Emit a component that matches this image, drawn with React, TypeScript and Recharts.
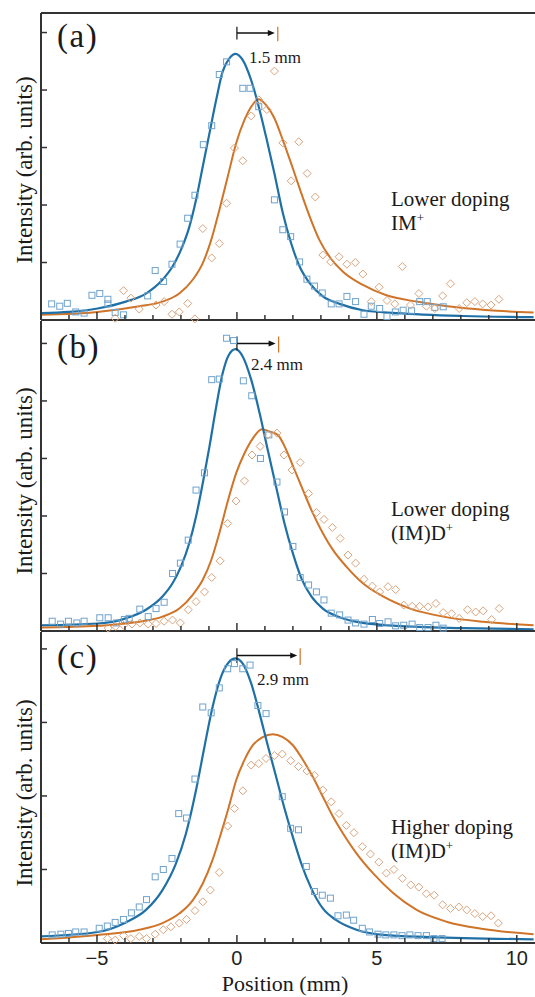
import React from "react";
import {
  ComposedChart,
  Line,
  Scatter,
  XAxis,
  YAxis,
  ReferenceLine,
  ReferenceDot,
} from "recharts";

// values: [position (mm), intensity (tick units)]
const aSquares: [number, number][] = [
  [-6.62, 0.28], [-6.33, 0.24], [-6.06, 0.29], [-5.76, 0.14], [-5.46, 0.12], [-5.18, 0.43],
  [-4.9, 0.46], [-4.61, 0.36], [-4.61, 0.28], [-4.35, 0.13], [-4.05, 0.09], [-3.19, 0.42],
  [-2.92, 0.86], [-2.62, 0.67], [-2.32, 0.97], [-2.03, 1.32], [-1.76, 1.77], [-1.5, 2.17],
  [-1.2, 3.05], [-0.9, 3.38], [-0.63, 4.27], [-0.37, 4.49], [0.21, 4.03], [0.47, 4.03],
  [0.78, 3.71], [1.34, 2.09], [1.64, 1.57], [1.92, 1.45], [2.24, 1.01], [2.5, 0.71],
  [2.77, 0.59], [3.05, 0.47], [3.37, 0.28], [3.65, 0.28], [3.93, 0.41], [4.24, 0.32],
  [4.54, 0.1], [4.8, 0.24], [5.1, 0.2], [5.36, 0.06], [5.66, 0.14], [5.94, 0.17],
  [6.24, 0.16], [6.53, 0.32], [6.8, 0.32], [7.07, 0.22], [7.37, 0.23],
];
const aDiamonds: [number, number][] = [
  [-4.35, 0.03], [-4.05, 0.51], [-3.79, 0.38], [-3.49, 0.19], [-2.89, 0.26], [-2.6, 0.32],
  [-2.32, 0.1], [-2.06, 0.14], [-1.76, 0.29], [-1.5, 0.02], [-1.22, 1.59], [-0.9, 1.08],
  [-0.63, 1.33], [-0.37, 2.03], [-0.09, 2.99], [0.21, 2.77], [0.51, 3.55], [0.78, 3.83],
  [1.07, 3.66], [1.34, 4.33], [1.64, 3.08], [1.94, 2.42], [2.21, 3.1], [2.51, 2.55],
  [2.8, 2.14], [3.07, 1.13], [3.35, 1.01], [3.65, 1.1], [3.93, 0.97], [4.23, 1.0],
  [4.5, 0.8], [4.8, 0.32], [5.08, 0.57], [5.36, 0.34], [5.64, 0.28], [5.91, 0.93],
  [6.2, 0.26], [6.5, 0.46], [6.77, 0.24], [7.07, 0.2], [7.35, 0.42], [7.63, 0.63],
  [7.94, 0.2], [8.21, 0.3], [8.5, 0.32], [8.78, 0.28], [9.08, 0.26], [9.36, 0.36],
];
const aBlueFit: [number, number][] = [
  [-7, 0.12], [-6, 0.14], [-4.98, 0.2], [-3.97, 0.32], [-3.25, 0.46], [-2.66, 0.7],
  [-2.3, 0.93], [-2.0, 1.22], [-1.7, 1.62], [-1.46, 2.09], [-1.22, 2.67], [-0.98, 3.25],
  [-0.74, 3.83], [-0.51, 4.32], [-0.27, 4.55], [-0.05, 4.63], [0.21, 4.52], [0.51, 4.17],
  [0.78, 3.71], [1.04, 3.19], [1.34, 2.55], [1.64, 1.86], [1.94, 1.33], [2.24, 0.93],
  [2.6, 0.64], [3.07, 0.41], [3.67, 0.28], [4.5, 0.17], [5.7, 0.12], [8.08, 0.07], [10.6, 0.05],
];
const aOrangeFit: [number, number][] = [
  [-7, 0.09], [-4.98, 0.14], [-3.49, 0.24], [-2.66, 0.32], [-2.06, 0.46], [-1.58, 0.7],
  [-1.22, 0.99], [-0.92, 1.39], [-0.63, 1.91], [-0.33, 2.49], [-0.03, 3.07], [0.27, 3.48],
  [0.51, 3.71], [0.78, 3.84], [1.04, 3.74], [1.34, 3.51], [1.64, 3.13], [1.94, 2.72],
  [2.24, 2.29], [2.6, 1.8], [2.95, 1.39], [3.31, 1.1], [3.79, 0.84], [4.5, 0.61],
  [5.34, 0.43], [6.42, 0.32], [7.85, 0.22], [9.28, 0.16], [10.6, 0.13],
];

const bSquares: [number, number][] = [
  [-6.6, 0.17], [-6.3, 0.12], [-6.02, 0.17], [-5.72, 0.14], [-5.46, 0.17], [-4.9, 0.23],
  [-4.6, 0.23], [-4.3, 0.14], [-4.02, 0.2], [-3.85, 0.22], [-3.47, 0.38], [-3.17, 0.25],
  [-2.89, 0.39], [-2.6, 0.5], [-2.3, 1.0], [-2.02, 1.18], [-1.74, 1.58], [-1.46, 2.45],
  [-1.16, 2.75], [-0.9, 4.37], [-0.63, 4.38], [-0.37, 5.09], [-0.12, 5.05], [0.23, 4.35],
  [0.53, 4.09], [0.84, 3.0], [1.14, 3.41], [1.43, 2.59], [1.7, 2.07], [2.0, 1.47],
  [2.26, 0.93], [2.56, 0.8], [2.84, 0.68], [3.11, 0.54], [3.37, 0.31], [3.67, 0.28],
  [3.97, 0.19], [4.24, 0.14], [4.54, 0.12], [4.84, 0.2], [5.1, 0.13], [5.4, 0.16],
  [5.67, 0.09], [5.96, 0.1], [6.26, 0.12], [6.53, 0.06], [6.83, 0.06], [7.11, 0.1], [7.37, 0.05],
];
const bDiamonds: [number, number][] = [
  [-4.6, 0.05], [-4.33, 0.08], [-4.05, 0.1], [-3.75, 0.12], [-3.47, 0.14], [-3.17, 0.12],
  [-2.89, 0.13], [-2.6, 0.17], [-2.3, 0.19], [-2.02, 0.14], [-1.74, 0.37], [-1.46, 0.51],
  [-1.16, 0.68], [-0.9, 0.93], [-0.6, 1.22], [-0.33, 1.87], [-0.03, 2.26], [0.27, 2.61],
  [0.54, 3.06], [0.83, 3.21], [1.1, 3.41], [1.43, 3.44], [1.68, 3.06], [1.97, 2.8],
  [2.26, 2.93], [2.56, 2.39], [2.84, 2.06], [3.11, 1.94], [3.41, 1.8], [3.69, 1.61],
  [3.97, 1.32], [4.24, 1.18], [4.54, 0.9], [4.84, 0.78], [5.1, 0.68], [5.4, 0.77],
  [5.67, 0.72], [5.96, 0.45], [6.26, 0.43], [6.53, 0.43], [6.83, 0.42], [7.11, 0.48],
  [7.37, 0.32], [7.67, 0.3], [7.94, 0.22], [8.24, 0.37], [8.53, 0.33], [8.8, 0.35],
  [9.1, 0.2], [9.37, 0.39],
];
const bBlueFit: [number, number][] = [
  [-7, 0.1], [-4.98, 0.13], [-3.97, 0.22], [-3.25, 0.37], [-2.66, 0.6], [-2.3, 0.83],
  [-2.0, 1.12], [-1.7, 1.53], [-1.46, 1.99], [-1.22, 2.57], [-0.98, 3.21], [-0.74, 3.9],
  [-0.51, 4.48], [-0.29, 4.8], [-0.05, 4.9], [0.21, 4.77], [0.51, 4.37], [0.81, 3.79],
  [1.1, 3.15], [1.4, 2.51], [1.7, 1.87], [2.0, 1.35], [2.3, 0.92], [2.66, 0.6],
  [3.07, 0.39], [3.67, 0.24], [4.5, 0.14], [5.7, 0.09], [8.08, 0.05], [10.6, 0.03],
];
const bOrangeFit: [number, number][] = [
  [-7, 0.06], [-4.98, 0.09], [-3.49, 0.16], [-2.66, 0.25], [-2.06, 0.39], [-1.58, 0.63],
  [-1.22, 0.89], [-0.92, 1.23], [-0.63, 1.7], [-0.33, 2.25], [-0.03, 2.74], [0.27, 3.09],
  [0.57, 3.35], [0.89, 3.51], [1.16, 3.47], [1.46, 3.41], [1.76, 3.15], [2.06, 2.8],
  [2.36, 2.45], [2.71, 2.05], [3.07, 1.7], [3.43, 1.41], [3.91, 1.12], [4.5, 0.83],
  [5.22, 0.6], [6.19, 0.39], [7.37, 0.25], [8.8, 0.16], [10.6, 0.1],
];

const cSquares: [number, number][] = [
  [-6.6, 0.11], [-6.29, 0.12], [-6.02, 0.13], [-5.76, 0.15], [-5.46, 0.15], [-4.92, 0.2],
  [-4.63, 0.23], [-4.35, 0.28], [-4.05, 0.32], [-3.77, 0.41], [-3.49, 0.49], [-3.23, 0.59],
  [-2.92, 0.9], [-2.63, 1.0], [-2.32, 1.15], [-2.08, 1.76], [-1.8, 1.7], [-1.5, 2.23],
  [-1.22, 3.21], [-0.92, 3.13], [-0.63, 3.47], [-0.33, 3.73], [-0.09, 3.8], [0.21, 3.73],
  [0.47, 3.78], [0.75, 3.23], [1.04, 3.12], [1.62, 1.99], [1.92, 1.56], [2.2, 1.54],
  [2.48, 1.04], [2.77, 0.7], [3.05, 0.65], [3.34, 0.61], [3.61, 0.37], [3.91, 0.38],
  [4.17, 0.31], [4.48, 0.2], [4.74, 0.15], [5.04, 0.12], [5.32, 0.11], [5.61, 0.11],
  [5.9, 0.1], [6.18, 0.11], [6.47, 0.1], [6.77, 0.1], [7.04, 0.06], [7.33, 0.06],
];
const cDiamonds: [number, number][] = [
  [-4.63, 0.06], [-4.35, 0.04], [-4.05, 0.1], [-3.79, 0.06], [-3.49, 0.09], [-3.23, 0.06],
  [-2.92, 0.12], [-2.63, 0.18], [-2.36, 0.22], [-2.06, 0.27], [-1.8, 0.32], [-1.5, 0.44],
  [-1.22, 0.56], [-0.95, 0.72], [-0.63, 0.96], [-0.33, 1.59], [-0.09, 1.83], [0.21, 2.07],
  [0.51, 2.42], [0.78, 2.44], [1.04, 2.51], [1.34, 2.55], [1.62, 2.57], [1.92, 2.48],
  [2.2, 2.4], [2.5, 2.34], [2.77, 2.28], [3.07, 2.08], [3.37, 1.92], [3.65, 1.76],
  [3.91, 1.6], [4.18, 1.5], [4.48, 1.31], [4.77, 1.21], [5.07, 1.1], [5.34, 0.95],
  [5.61, 1.0], [5.91, 0.88], [6.21, 0.79], [6.5, 0.76], [6.77, 0.67], [7.05, 0.65],
  [7.35, 0.52], [7.63, 0.47], [7.93, 0.49], [8.21, 0.45], [8.5, 0.4], [8.78, 0.36],
  [9.08, 0.37], [9.34, 0.27],
];
const cBlueFit: [number, number][] = [
  [-7, 0.09], [-4.98, 0.15], [-3.97, 0.28], [-3.25, 0.45], [-2.66, 0.72], [-2.18, 1.08],
  [-1.82, 1.49], [-1.46, 2.08], [-1.16, 2.67], [-0.87, 3.21], [-0.57, 3.62], [-0.29, 3.82],
  [-0.05, 3.87], [0.21, 3.8], [0.51, 3.53], [0.81, 3.12], [1.1, 2.69], [1.4, 2.26],
  [1.7, 1.83], [2.0, 1.44], [2.3, 1.08], [2.66, 0.74], [3.07, 0.47], [3.55, 0.31],
  [4.27, 0.18], [5.22, 0.11], [6.89, 0.08], [10.6, 0.05],
];
const cOrangeFit: [number, number][] = [
  [-7, 0.05], [-4.98, 0.11], [-3.49, 0.18], [-2.66, 0.27], [-2.06, 0.4], [-1.58, 0.58],
  [-1.22, 0.81], [-0.87, 1.13], [-0.57, 1.49], [-0.29, 1.85], [-0.03, 2.21], [0.27, 2.49],
  [0.57, 2.69], [0.92, 2.8], [1.28, 2.84], [1.64, 2.8], [2.0, 2.69], [2.36, 2.49],
  [2.71, 2.26], [3.07, 1.99], [3.43, 1.72], [3.79, 1.49], [4.27, 1.22], [4.86, 0.95],
  [5.58, 0.68], [6.42, 0.45], [7.49, 0.29], [8.8, 0.19], [10.6, 0.12],
];

const xTicks = [-7, -6, -5, -4, -3, -2, -1, 0, 1, 2, 3, 4, 5, 6, 7, 8, 9, 10];
const X_DOMAIN: [number, number] = [-7, 10.65];

const AXIS = "#333";
const BLUE = "#1f70a6";
const ORANGE = "#cf7428";
const BLUE_PT = "#6fa3cc";
const ORANGE_PT = "#d9a47c";
const SERIF = "'Liberation Serif', 'Times New Roman', serif";
const SANS = "'Liberation Sans', Arial, sans-serif";

const pts = (arr: [number, number][]) => arr.map(([x, y]) => ({ x, y }));

const Square = (p: any) => (
  <rect x={p.cx - 3} y={p.cy - 3} width={6} height={6} fill="none" stroke={BLUE_PT} strokeWidth={1} />
);
const Diamond = (p: any) => (
  <polygon
    points={`${p.cx},${p.cy - 4} ${p.cx + 4},${p.cy} ${p.cx},${p.cy + 4} ${p.cx - 4},${p.cy}`}
    fill="none"
    stroke={ORANGE_PT}
    strokeWidth={1}
  />
);
const ArrowHead = (p: any) => (
  <polygon
    points={`${p.cx - 3},${p.cy} ${p.cx - 10},${p.cy - 3} ${p.cx - 10},${p.cy + 3}`}
    fill="#111"
  />
);

const XTick = (props: any) => {
  const { x, y, payload, showLabel } = props;
  const v = payload.value;
  const major = v % 5 === 0;
  return (
    <g>
      <line x1={x} x2={x} y1={y} y2={y - (major ? 8 : 5)} stroke={AXIS} strokeWidth={1.5} />
      {showLabel && major && (
        <text x={x} y={y + 22} textAnchor="middle" fontFamily={SANS} fontSize={20} fill="#222">
          {v < 0 ? `\u2212${-v}` : v}
        </text>
      )}
    </g>
  );
};

// inward tick on the left axis, no label
const YTick = (props: any) => {
  const { x, y } = props;
  return <line x1={x} x2={x + 6} y1={y} y2={y} stroke={AXIS} strokeWidth={1.5} />;
};

interface PanelProps {
  top: number;
  height: number;
  margin: { top: number; bottom: number };
  yMax: number;
  yTicks: number[];
  squares: [number, number][];
  diamonds: [number, number][];
  blueFit: [number, number][];
  orangeFit: [number, number][];
  arrowY: number;
  arrowEnd: number;
  tickHalf: number;
  showLabels?: boolean;
  topBorder?: boolean;
}

function Panel(p: PanelProps) {
  return (
    <div style={{ position: "absolute", left: 0, top: p.top }}>
      <ComposedChart
        width={535}
        height={p.height}
        margin={{ top: p.margin.top, right: 0, bottom: p.margin.bottom, left: 41 }}
      >
        <XAxis
          type="number"
          dataKey="x"
          domain={X_DOMAIN}
          ticks={xTicks}
          interval={0}
          height={1}
          tickSize={0}
          tickMargin={0}
          tickLine={false}
          axisLine={{ stroke: AXIS, strokeWidth: 2 }}
          tick={(t: any) => <XTick {...t} showLabel={p.showLabels} />}
        />
        {p.topBorder && (
          <XAxis
            xAxisId="top"
            orientation="top"
            type="number"
            domain={X_DOMAIN}
            height={1}
            tick={false}
            tickLine={false}
            axisLine={{ stroke: AXIS, strokeWidth: 2 }}
          />
        )}
        <YAxis
          type="number"
          domain={[0, p.yMax]}
          ticks={p.yTicks}
          interval={0}
          width={1}
          mirror
          tickSize={0}
          tickMargin={0}
          tickLine={false}
          tick={(t: any) => <YTick {...t} />}
          axisLine={{ stroke: AXIS, strokeWidth: 2 }}
        />
        <Scatter data={pts(p.squares)} dataKey="y" shape={Square} isAnimationActive={false} />
        <Scatter data={pts(p.diamonds)} dataKey="y" shape={Diamond} isAnimationActive={false} />
        <Line
          data={pts(p.orangeFit)}
          dataKey="y"
          type="monotone"
          stroke={ORANGE}
          strokeWidth={2}
          dot={false}
          isAnimationActive={false}
        />
        <Line
          data={pts(p.blueFit)}
          dataKey="y"
          type="monotone"
          stroke={BLUE}
          strokeWidth={2.2}
          dot={false}
          isAnimationActive={false}
        />
        <ReferenceLine
          segment={[{ x: 0, y: p.arrowY }, { x: p.arrowEnd - 0.2, y: p.arrowY }]}
          stroke="#111"
          strokeWidth={1.5}
        />
        <ReferenceLine
          segment={[{ x: 0, y: p.arrowY - p.tickHalf }, { x: 0, y: p.arrowY + p.tickHalf }]}
          stroke="#111"
          strokeWidth={1.2}
        />
        <ReferenceLine
          segment={[
            { x: p.arrowEnd, y: p.arrowY - p.tickHalf * 1.3 },
            { x: p.arrowEnd, y: p.arrowY + p.tickHalf },
          ]}
          stroke={ORANGE}
          strokeWidth={1.2}
        />
        <ReferenceDot x={p.arrowEnd} y={p.arrowY} r={3} shape={ArrowHead} />
      </ComposedChart>
    </div>
  );
}

const Sup = () => (
  <tspan dy={-8} fontSize={13}>
    +
  </tspan>
);

// two-line sample label, kept in one text element
const SampleLabel = ({ y, first, second }: { y: number; first: string; second: string }) => (
  <text fontSize={21} fontFamily={SERIF} fill="#1a1a1a">
    <tspan x={391} y={y}>{first}</tspan>
    <tspan x={391} y={y + 24}>
      {second}
      <Sup />
    </tspan>
  </text>
);

export default function App() {
  const txt = { fontFamily: SERIF, fill: "#1a1a1a" };
  return (
    <div style={{ position: "absolute", left: 0, top: 0, width: 535, height: 997, background: "#fff" }}>
      <Panel
        top={0}
        height={330}
        margin={{ top: 12, bottom: 9 }}
        yMax={5.34}
        yTicks={[1, 2, 3, 4, 5]}
        squares={aSquares}
        diamonds={aDiamonds}
        blueFit={aBlueFit}
        orangeFit={aOrangeFit}
        arrowY={4.99}
        arrowEnd={1.46}
        tickHalf={0.11}
        topBorder
      />
      <Panel
        top={310}
        height={330}
        margin={{ top: 11, bottom: 8 }}
        yMax={5.39}
        yTicks={[1, 2, 3, 4, 5]}
        squares={bSquares}
        diamonds={bDiamonds}
        blueFit={bBlueFit}
        orangeFit={bOrangeFit}
        arrowY={5.0}
        arrowEnd={1.49}
        tickHalf={0.12}
      />
      <Panel
        top={622}
        height={375}
        margin={{ top: 10, bottom: 53 }}
        yMax={4.23}
        yTicks={[1, 2, 3, 4]}
        squares={cSquares}
        diamonds={cDiamonds}
        blueFit={cBlueFit}
        orangeFit={cOrangeFit}
        arrowY={3.91}
        arrowEnd={2.26}
        tickHalf={0.1}
        showLabels
      />
      <svg
        width={535}
        height={997}
        style={{ position: "absolute", left: 0, top: 0, pointerEvents: "none" }}
      >
        <text x={57} y={47} fontSize={33} letterSpacing={1.5} {...txt}>(a)</text>
        <text x={57} y={358} fontSize={33} letterSpacing={1.5} {...txt}>(b)</text>
        <text x={57} y={668} fontSize={33} letterSpacing={1.5} {...txt}>(c)</text>

        <text x={249} y={63} fontSize={17} {...txt}>1.5 mm</text>
        <text x={251} y={370} fontSize={17} {...txt}>2.4 mm</text>
        <text x={257} y={685} fontSize={17} {...txt}>2.9 mm</text>

        <SampleLabel y={206} first="Lower doping" second="IM" />
        <SampleLabel y={516} first="Lower doping" second="(IM)D" />
        <SampleLabel y={834} first="Higher doping" second="(IM)D" />

        {[170, 481, 793].map((cy) => (
          <text
            key={cy}
            x={32}
            y={cy}
            transform={`rotate(-90 32 ${cy})`}
            textAnchor="middle"
            fontSize={23}
            {...txt}
          >
            Intensity (arb. units)
          </text>
        ))}

        <text x={285} y={991} textAnchor="middle" fontSize={22} {...txt}>Position (mm)</text>
      </svg>
    </div>
  );
}
